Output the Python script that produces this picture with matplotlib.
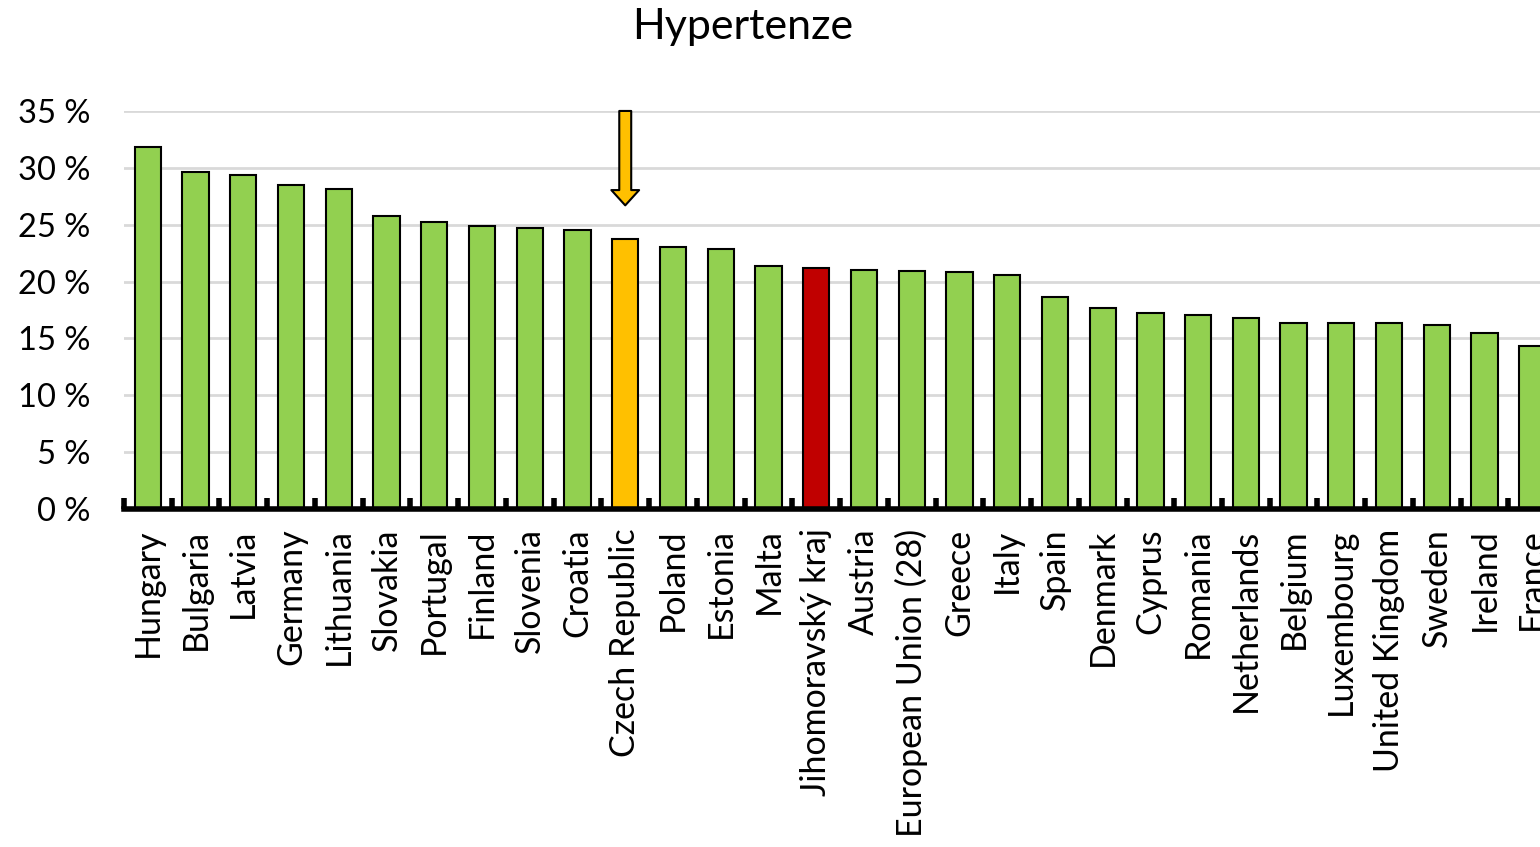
import numpy as np
import matplotlib.pyplot as plt
from matplotlib.ticker import FuncFormatter, MultipleLocator

plt.rcParams['font.family'] = ['Lato', 'DejaVu Sans']

# data (% of population with hypertension)
countries = ['Hungary', 'Bulgaria', 'Latvia', 'Germany', 'Lithuania', 'Slovakia',
             'Portugal', 'Finland', 'Slovenia', 'Croatia', 'Czech Republic', 'Poland',
             'Estonia', 'Malta', 'Jihomoravský kraj', 'Austria', 'European Union (28)',
             'Greece', 'Italy', 'Spain', 'Denmark', 'Cyprus', 'Romania', 'Netherlands',
             'Belgium', 'Luxembourg', 'United Kingdom', 'Sweden', 'Ireland', 'France']
values = [31.8, 29.6, 29.4, 28.5, 28.1, 25.8, 25.2, 24.9, 24.7, 24.5, 23.7, 23.0,
          22.9, 21.4, 21.2, 21.0, 20.9, 20.8, 20.6, 18.6, 17.7, 17.2, 17.1, 16.8,
          16.4, 16.4, 16.4, 16.2, 15.5, 14.3]
highlight = {'Czech Republic': '#FFC000', 'Jihomoravský kraj': '#C00000'}

colors = [highlight.get(c, '#92D050') for c in countries]
x = np.arange(len(countries))

fig = plt.figure(figsize=(15.4, 8.47), dpi=100)
# axes run past the right edge on purpose (chart is cropped after France)
ax = fig.add_axes([0.0805, 0.399, 0.961, 0.47])

ax.bar(x, values, width=0.55, color=colors, edgecolor='black', linewidth=1.5, zorder=3)

ax.set_xlim(-0.5, len(countries) + 0.5)
ax.set_ylim(0, 35)
ax.yaxis.set_major_locator(MultipleLocator(5))
ax.yaxis.set_major_formatter(FuncFormatter(lambda v, p: f'{v:.0f} %'))
ax.grid(axis='y', color='#D9D9D9', linewidth=2, zorder=0)

ax.set_xticks(x)
ax.set_xticklabels(countries, rotation=90, fontsize=24.5)
ax.set_xticks(np.arange(-0.5, len(countries) + 1), minor=True)
ax.tick_params(axis='x', which='major', length=0, pad=14)
ax.tick_params(axis='x', which='minor', direction='in', length=8, width=4, color='black')
ax.tick_params(axis='y', length=0, labelsize=23.5, pad=24)

for s in ['top', 'right', 'left']:
    ax.spines[s].set_visible(False)
ax.spines['bottom'].set_linewidth(4)
ax.spines['bottom'].set_zorder(4)

# arrow pointing at Czech Republic
cz = countries.index('Czech Republic')
ax.annotate('', xy=(cz, 26.7), xytext=(cz, 35.0),
            arrowprops=dict(arrowstyle='simple,head_width=1.0,head_length=0.55,tail_width=0.43',
                            mutation_scale=20, fc='#FFC000', ec='black', lw=1.5,
                            shrinkA=0, shrinkB=0),
            zorder=5, annotation_clip=False)

fig.text(0.4825, 0.968, 'Hypertenze', ha='center', va='center', fontsize=31)

fig.savefig('out.png', dpi=100)
